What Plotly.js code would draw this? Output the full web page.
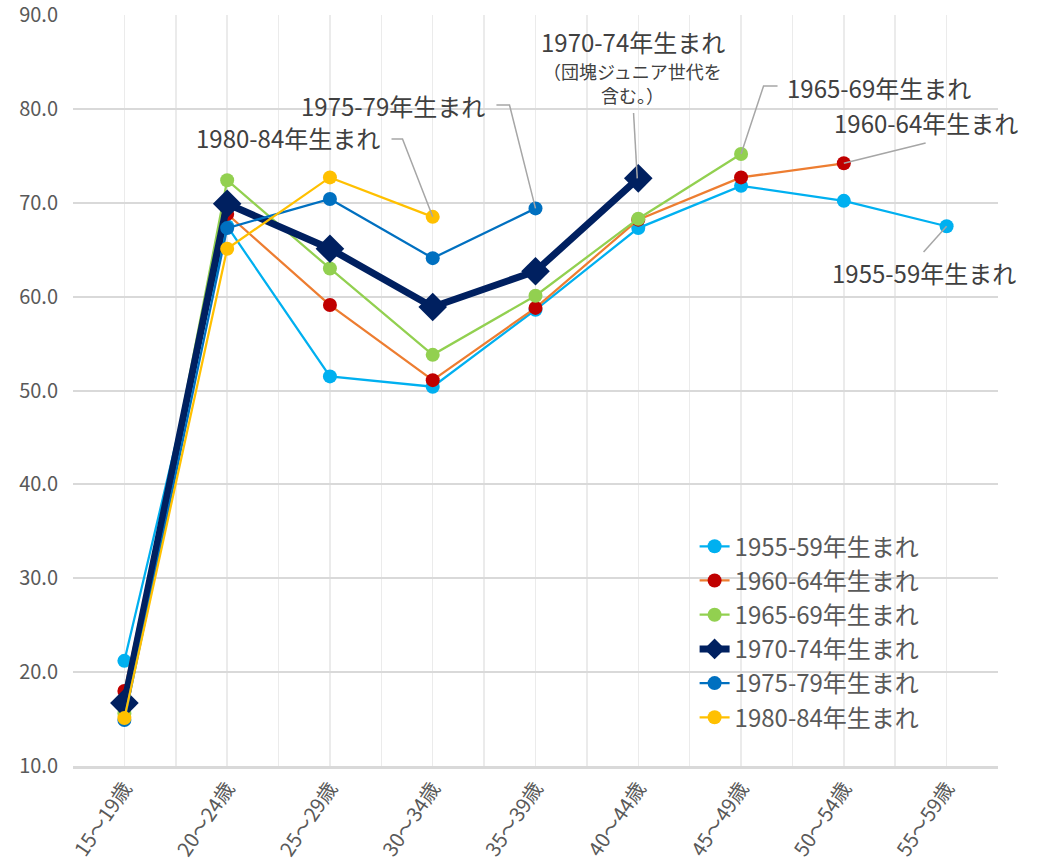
<!DOCTYPE html>
<html>
<head>
<meta charset="utf-8">
<script src="https://cdn.plot.ly/plotly-3.0.1.min.js"></script>
<style>html,body{margin:0;padding:0;background:#fff;}#chart{width:1038px;height:862px;}</style>
</head>
<body>
<div id="chart"></div>
<script>
const categories = ["15～19歳","20～24歳","25～29歳","30～34歳","35～39歳","40～44歳","45～49歳","50～54歳","55～59歳"];
const seriesNames = ["1955-59年生まれ","1960-64年生まれ","1965-69年生まれ","1970-74年生まれ","1975-79年生まれ","1980-84年生まれ"];
const s1955 = [21.2, 67.5, 51.5, 50.4, 58.6, 67.3, 71.8, 70.2, 67.5];
const s1960 = [18.0, 68.8, 59.1, 51.1, 58.8, 68.2, 72.7, 74.2];
const s1965 = [15.6, 72.4, 63.0, 53.8, 60.1, 68.3, 75.2];
const s1970 = [16.7, 69.9, 65.1, 58.9, 62.7, 72.6];
const s1975 = [14.9, 67.3, 70.4, 64.1, 69.4];
const s1980 = [15.1, 65.1, 72.7, 68.5];
const yTicks = [10,20,30,40,50,60,70,80,90];
const subNote = ["（団塊ジュニア世代を", "含む。）"];

const idx = categories.map((c,i)=>i);
const font = '"Noto Sans CJK JP", "Noto Sans", sans-serif';

function tr(name, vals, lineColor, markerColor, lw, symbol, msize){
  return {
    type:'scatter', mode:'lines+markers', name:name,
    x: idx.slice(0, vals.length), y: vals,
    text: categories.slice(0, vals.length),
    line:{color:lineColor, width:lw},
    marker:{color:markerColor, size:msize, symbol:symbol},
    cliponaxis:false
  };
}
const data = [
  tr(seriesNames[0], s1955, '#00b0f0', '#00b0f0', 2.25, 'circle', 14),
  tr(seriesNames[1], s1960, '#ed7d31', '#c00000', 2.25, 'circle', 14),
  tr(seriesNames[2], s1965, '#92d050', '#92d050', 2.25, 'circle', 14),
  tr(seriesNames[3], s1970, '#002060', '#002060', 7, 'diamond', 22),
  tr(seriesNames[4], s1975, '#0070c0', '#0070c0', 2.25, 'circle', 14),
  tr(seriesNames[5], s1980, '#ffc000', '#ffc000', 2.25, 'circle', 14)
];

const annColor = '#404040';
const leader = '#a6a6a6';
function txt(x,y,t,size){
  return {x:x,y:y,xref:'x',yref:'y',text:t,showarrow:false,
    font:{family:font,size:size||24,color:annColor},xanchor:'center',yanchor:'middle'};
}
const annotations = [
  txt(1.596, 76.9, seriesNames[5]),
  txt(2.618, 80.31, seriesNames[4]),
  txt(4.944, 87.23, seriesNames[3]),
  txt(4.944, 84.0, subNote[0], 18),
  txt(4.944, 81.45, subNote[1], 18),
  txt(7.338, 82.33, seriesNames[2]),
  txt(7.796, 78.50, seriesNames[1]),
  txt(7.776, 62.52, seriesNames[0])
];
function path(pts){
  return {type:'path', xref:'x', yref:'y',
    path: 'M ' + pts.map(p=>p[0]+','+p[1]).join(' L '),
    line:{color:leader, width:1.5}, layer:'above'};
}
const shapes = [
  path([[2.599,76.79],[2.706,76.79],[3,s1980[3]]]),
  path([[3.620,80.41],[3.747,80.41],[4,s1975[4]]]),
  path([[4.954,79.56],[4.99,s1970[5]]]),
  path([[6.355,82.44],[6.219,82.44],[6,s1965[6]]]),
  path([[7.796,76.37],[7,s1960[7]]]),
  path([[7.776,64.75],[8,s1955[8]]])
];

const layout = {
  width:1038, height:862,
  margin:{l:73, r:40, t:15, b:96},
  paper_bgcolor:'#ffffff', plot_bgcolor:'#ffffff',
  font:{family:font, color:'#595959'},
  showlegend:true,
  legend:{x:0.672, y:0.322, xanchor:'left', yanchor:'top', bgcolor:'rgba(0,0,0,0)',
    font:{family:font, size:24, color:'#595959'}, tracegroupgap:0},
  xaxis:{type:'linear', range:[-0.5, 8.5], tickvals:idx, ticktext:categories,
    tickangle:-56, tickfont:{family:font,size:20,color:'#595959'},
    showgrid:true, gridcolor:'#ebebeb', gridwidth:1.5,
    minor:{tick0:-0.5, dtick:1, showgrid:true, gridcolor:'#ebebeb', gridwidth:1.5, ticks:''},
    zeroline:false, showline:true, linecolor:'#d9d9d9', linewidth:2.5, ticks:'', ticklen:0,
    fixedrange:true},
  yaxis:{range:[10,90], tickvals:yTicks, ticktext:yTicks.map(v=>v.toFixed(1)),
    tickfont:{family:font,size:20,color:'#595959'}, ticklabelstandoff:14,
    ticklabeloverflow:'allow',
    showgrid:true, gridcolor:'#d9d9d9', gridwidth:2, zeroline:false, showline:false,
    ticks:'', fixedrange:true},
  annotations:annotations,
  shapes:shapes
};
Plotly.newPlot('chart', data, layout, {displayModeBar:false, staticPlot:true});
</script>
</body>
</html>
